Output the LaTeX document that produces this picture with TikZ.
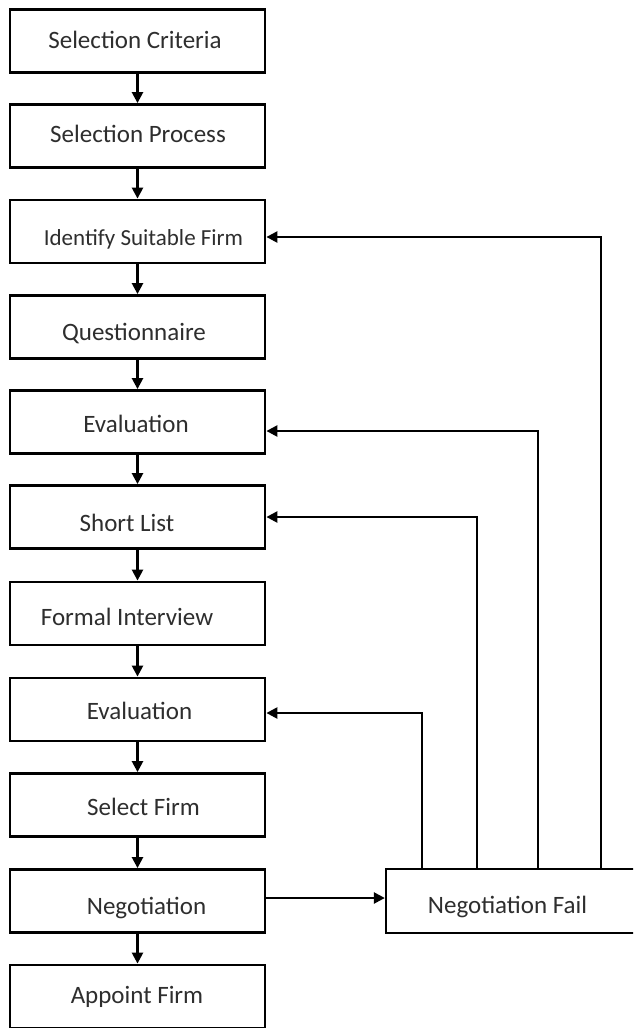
\documentclass[tikz,border=0pt]{standalone}
\usepackage{fontspec}
\setmainfont{Carlito}
\usetikzlibrary{arrows.meta,calc}
\tikzset{
  stepbox/.style={draw=black, line width=2.8pt, minimum width=255pt,
    minimum height=63pt, inner sep=0pt, fill=white},
  failbox/.style={draw=black, line width=2.3pt, minimum width=254pt,
    minimum height=64pt, inner sep=0pt, fill=white},
  lbl/.style={anchor=base, inner sep=0pt, text=black!82,
    font=\fontsize{25}{30}\selectfont},
  small/.style={font=\fontsize{23}{28}\selectfont},
  flow/.style={draw=black, line width=2.4pt,
    -{Triangle[length=11pt,width=11pt]}},
}
\begin{document}
\begin{tikzpicture}[x=1pt,y=1pt]
\clip (0,0) rectangle (633,-1028);
\fill[white] (0,0) rectangle (633,-1028);

% main column of steps
\node[stepbox] (b1)  at (137.5,-41)    {};
\node[stepbox] (b2)  at (137.5,-136)   {};
\node[stepbox] (b3)  at (137.5,-231.5) {};
\node[stepbox] (b4)  at (137.5,-327)   {};
\node[stepbox] (b5)  at (137.5,-422)   {};
\node[stepbox] (b6)  at (137.5,-517)   {};
\node[stepbox] (b7)  at (137.5,-613.5) {};
\node[stepbox] (b8)  at (137.5,-709.5) {};
\node[stepbox] (b9)  at (137.5,-805)   {};
\node[stepbox] (b10) at (137.5,-901)   {};
\node[stepbox] (b11) at (137.5,-996.5) {};

% failure branch, running past the right edge
\node[failbox] (nf) at (513,-901) {};

% labels
\node[lbl] (t1)  at (135,-48)    {Selection Criteria};
\node[lbl] (t2)  at (138,-142)   {Selection Process};
\node[lbl,small] (t3) at (143.5,-245) {Identify Suitable Firm};
\node[lbl] (t4)  at (134,-340)   {Questionnaire};
\node[lbl] (t5)  at (136,-432)   {Evaluation};
\node[lbl] (t6)  at (127,-531)   {Short List};
\node[lbl] (t7)  at (127,-625)   {Formal Interview};
\node[lbl] (t8)  at (139.5,-719) {Evaluation};
\node[lbl] (t9)  at (143.5,-815) {Select Firm};
\node[lbl] (t10) at (146.5,-914) {Negotiation};
\node[lbl] (t11) at (137,-1003)  {Appoint Firm};
\node[lbl] (tnf) at (507.5,-913) {Negotiation Fail};

% downward flow
\foreach \a/\b in {b1/b2,b2/b3,b3/b4,b4/b5,b5/b6,b6/b7,b7/b8,b8/b9,b9/b10,b10/b11}
  \draw[flow] (\a.south) -- (\b.north);

% negotiation to failure
\draw[flow] ([yshift=3pt]b10.east) -- ([yshift=3pt]nf.west);

% loops back from failure
\coordinate (f1) at ($(nf.north west)+(37,0)$);
\coordinate (f2) at ($(nf.north west)+(92,0)$);
\coordinate (f3) at ($(nf.north west)+(153,0)$);
\coordinate (f4) at ($(nf.north west)+(216,0)$);
\draw[flow] (f1) |- ([yshift=-3.5pt]b8.east);
\draw[flow] (f2) |- (b6.east);
\draw[flow] (f3) |- ([yshift=-9pt]b5.east);
\draw[flow] (f4) |- ([yshift=-5.5pt]b3.east);
\end{tikzpicture}
\end{document}
